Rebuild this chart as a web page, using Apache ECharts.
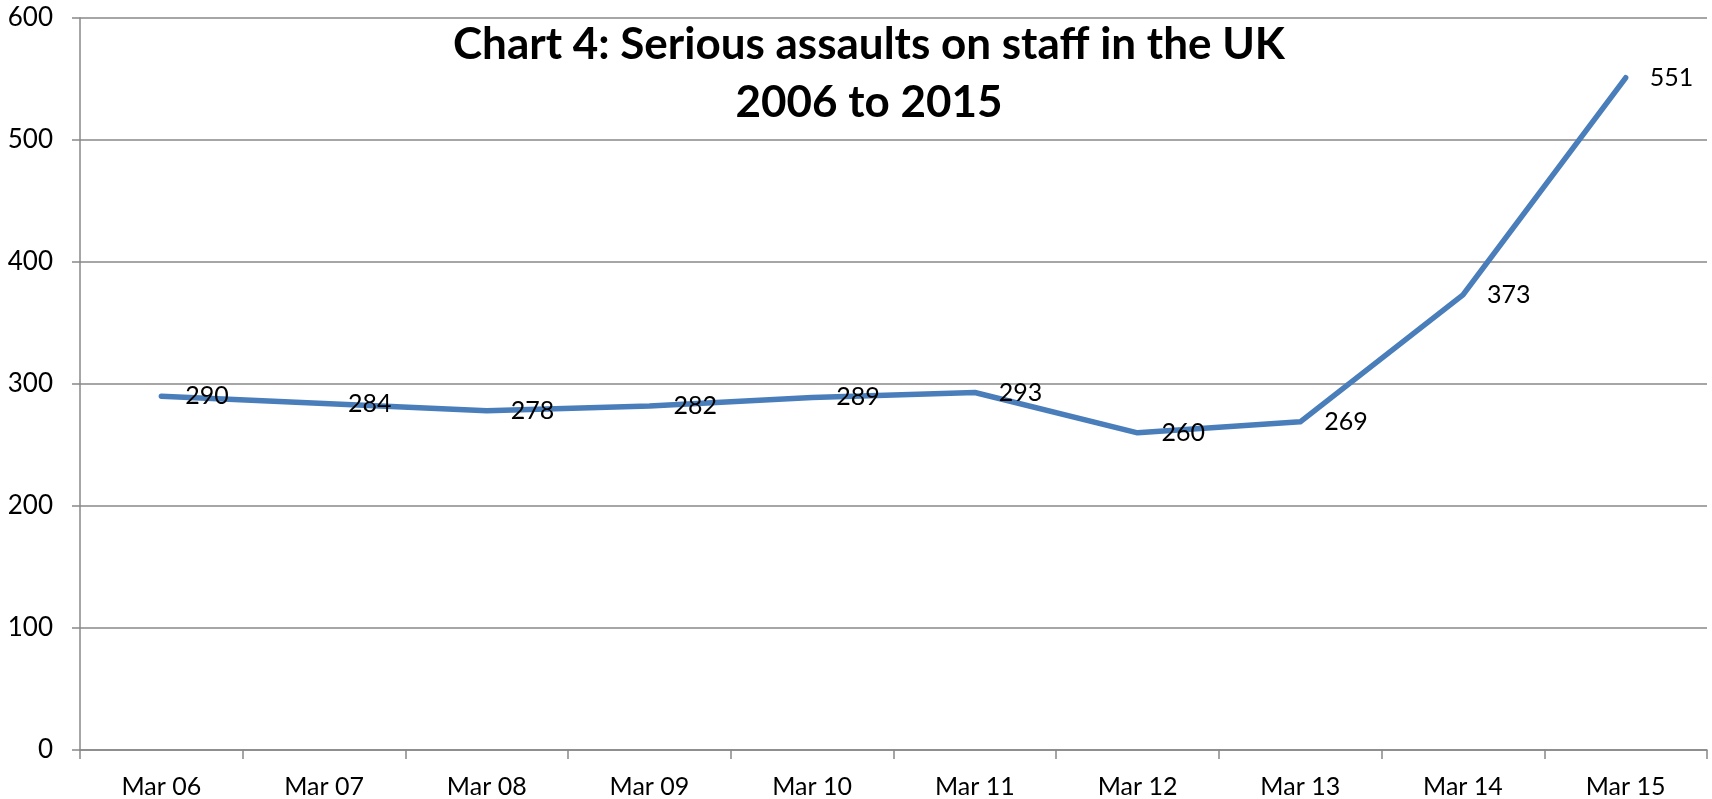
<!DOCTYPE html>
<html>
<head>
<meta charset="utf-8">
<script src="https://cdn.jsdelivr.net/npm/echarts@6/dist/echarts.min.js"></script>
<style>
  html, body { margin: 0; padding: 0; background: #fff; }
  #chart { width: 1712px; height: 799px; }
</style>
</head>
<body>
<div id="chart"></div>
<script>
// data
var categories = ['Mar 06', 'Mar 07', 'Mar 08', 'Mar 09', 'Mar 10', 'Mar 11', 'Mar 12', 'Mar 13', 'Mar 14', 'Mar 15']
var assaults = [290, 284, 278, 282, 289, 293, 260, 269, 373, 551]
var titleLines = ['Chart 4: Serious assaults on staff in the UK', '2006 to 2015']

var gridColor = '#888888'
var lineColor = '#4A7EBB'
var font = 'Lato'

var myChart = echarts.init(document.getElementById('chart'))

var option = {
    animation: false,
    title: {
        text: titleLines.join('\n'),
        left: 864,
        top: 11,
        textAlign: 'center',
        textStyle: { fontFamily: font, fontSize: 44, fontWeight: 'bold', color: '#000', lineHeight: 58 }
    },
    grid: { left: 80, right: 5, top: 18, bottom: 48 },
    xAxis: {
        type: 'category',
        data: categories,
        boundaryGap: true,
        axisLine: { lineStyle: { color: gridColor, width: 1.5 } },
        axisTick: { show: true, length: 9, lineStyle: { color: gridColor, width: 1.5 } },
        axisLabel: { color: '#000', fontFamily: font, fontSize: 25, margin: 24 }
    },
    yAxis: {
        type: 'value',
        min: 0,
        max: 600,
        interval: 100,
        axisLine: { show: true, lineStyle: { color: gridColor, width: 1.5 } },
        axisTick: { show: true, length: 8, lineStyle: { color: gridColor, width: 1.5 } },
        axisLabel: { color: '#000', fontFamily: font, fontSize: 26, margin: 27 },
        splitLine: { show: true, lineStyle: { color: gridColor, width: 1.5 } }
    },
    series: [{
        type: 'line',
        data: assaults,
        symbol: 'circle',
        symbolSize: 2,
        showSymbol: true,
        itemStyle: { color: lineColor },
        lineStyle: { color: lineColor, width: 5.5, cap: 'round', join: 'round' },
        label: {
            show: true,
            position: 'right',
            distance: 23,
            offset: [0, 2],
            color: '#000',
            fontFamily: font,
            fontSize: 25
        },
        labelLayout: { hideOverlap: false }
    }]
}

myChart.setOption(option, true)
</script>
</body>
</html>
